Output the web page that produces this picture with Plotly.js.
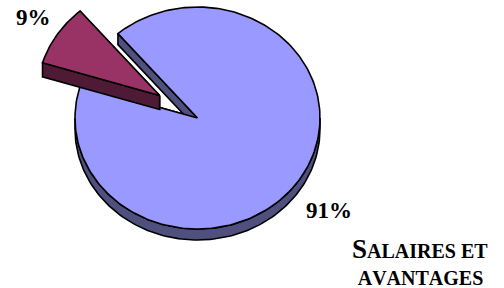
<!DOCTYPE html>
<html>
<head>
<meta charset="utf-8">
<script src="https://cdn.plot.ly/plotly-3.0.1.min.js"></script>
<style>
html,body{margin:0;padding:0;background:#fff;}
#chart{width:504px;height:288px;}
#chart text, #chart tspan{font-kerning:none; text-rendering:optimizeSpeed; font-feature-settings:"kern" 0;}
</style>
</head>
<body>
<div id="chart"></div>
<script>
// ---- data ----
const categories = ['', 'Salaires et avantages'];
const values = [9, 91];

// ---- style / layout constants ----
const topColors  = ['#993366', '#9999FF'];
const sideColors = ['#4F1A35', '#50507F'];
const pulls = [0.37, 0];
const depths = [14, 11];
const CX = 197.5, CY = 118, RX = 122.5, RY = 111;
const START = 40.5; // degrees, counter-clockwise from 12 o'clock

const total = values.reduce((a, b) => a + b, 0);
const deg = Math.PI / 180;
function pt(cx, cy, th, dy) {
  return [cx - RX * Math.sin(th * deg), cy - RY * Math.cos(th * deg) + (dy || 0)];
}
function arc(cx, cy, a, b, dy) {
  const pts = [];
  const n = Math.max(2, Math.ceil(Math.abs(b - a) / 1.5));
  for (let i = 0; i <= n; i++) pts.push(pt(cx, cy, a + (b - a) * i / n, dy));
  return pts;
}
function poly(pts, fill) {
  const xs = pts.map(p => p[0]), ys = pts.map(p => p[1]);
  xs.push(xs[0]); ys.push(ys[0]);
  return {x: xs, y: ys, type: 'scatter', mode: 'lines', fill: 'toself',
    fillcolor: fill, line: {color: '#000', width: 1.6}, hoverinfo: 'skip', showlegend: false};
}

const slices = [];
let acc = START;
values.forEach((v, i) => {
  const span = v / total * 360;
  const a = acc, b = acc + span, mid = (a + b) / 2;
  acc = b;
  const cx = CX - pulls[i] * RX * Math.sin(mid * deg);
  const cy = CY - pulls[i] * RY * Math.cos(mid * deg);
  slices.push({i, a, b, mid, cx, cy, d: depths[i]});
});

const traces = [];
[1, 0].forEach(k => {
  const s = slices[k];
  const d = s.d;
  for (let base = 0; base <= 360; base += 360) {
    const lo = Math.max(s.a, 90 + base), hi = Math.min(s.b, 270 + base);
    if (hi > lo) {
      const top = arc(s.cx, s.cy, lo, hi, 0);
      const bot = arc(s.cx, s.cy, hi, lo, d);
      traces.push(poly(top.concat(bot), sideColors[k]));
    }
  }
  [s.a, s.b].forEach(th => {
    const c = [s.cx, s.cy], p = pt(s.cx, s.cy, th, 0);
    traces.push(poly([c, p, [p[0], p[1] + d], [c[0], c[1] + d]], sideColors[k]));
  });
  traces.push(poly([[s.cx, s.cy]].concat(arc(s.cx, s.cy, s.a, s.b, 0)), topColors[k]));
});

function pct(v) { return Math.round(v / total * 100) + '%'; }
function smallCaps(text, big, small) {
  return text.split(' ').map(w => {
    const f = w[0];
    if (f === f.toUpperCase()) {
      return '<span style="font-size:' + big + 'px">' + f + '</span>' +
             '<span style="font-size:' + small + 'px">' + w.slice(1).toUpperCase() + '</span>';
    }
    return '<span style="font-size:' + small + 'px">' + w.toUpperCase() + '</span>';
  }).join('<span style="font-size:' + small + 'px"> </span>');
}
const catWords = categories[1].split(' ');
const line1 = smallCaps(catWords.slice(0, 2).join(' '), 27, 20);
const line2 = smallCaps(catWords.slice(2).join(' '), 27, 20);

const font = {family: "'Liberation Serif', 'Times New Roman', serif", color: '#000', weight: 'bold'};
const annotations = [
  {x: 33, y: 17, text: pct(values[0]), font: Object.assign({size: 23}, font)},
  {x: 329, y: 210, text: pct(values[1]), font: Object.assign({size: 23}, font)},
  {x: 420, y: 249, text: line1, font: Object.assign({size: 20}, font)},
  {x: 420, y: 278, text: line2, font: Object.assign({size: 20}, font)}
].map(a => Object.assign(a, {xref: 'x', yref: 'y', showarrow: false, xanchor: 'center', yanchor: 'middle'}));

const layout = {
  width: 504, height: 288,
  margin: {l: 0, r: 0, t: 0, b: 0},
  paper_bgcolor: '#fff', plot_bgcolor: '#fff',
  xaxis: {range: [0, 504], visible: false, fixedrange: true},
  yaxis: {range: [288, 0], visible: false, fixedrange: true},
  annotations: annotations,
  showlegend: false
};
Plotly.newPlot('chart', traces, layout, {staticPlot: true, displayModeBar: false});
</script>
</body>
</html>
